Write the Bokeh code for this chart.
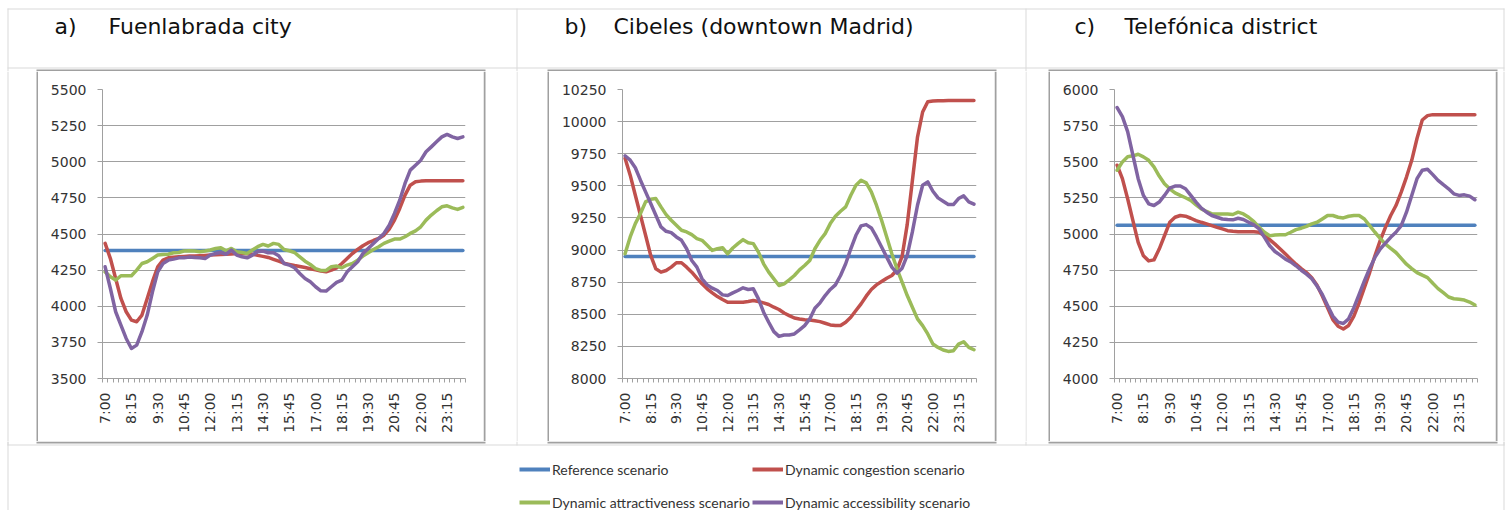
from math import pi
from bokeh.plotting import figure
from bokeh.models import Range1d, FixedTicker, BoxAnnotation, Label, Legend, LegendItem, ColumnDataSource
from bokeh.layouts import column, row
from bokeh.embed import file_html
from bokeh.resources import INLINE

# ---------------- data ----------------
times = [f"{h}:{m:02d}" for h in range(7, 25) for m in (0, 15, 30, 45)][:69]
label_idx = list(range(0, 69, 5))

series_names = ["Reference scenario", "Dynamic congestion scenario",
                "Dynamic attractiveness scenario", "Dynamic accessibility scenario"]
series_colors = ["#4F81BD", "#C0504D", "#9BBB59", "#8064A2"]

panel_titles = [("a)", "Fuenlabrada city"), ("b)", "Cibeles (downtown Madrid)"), ("c)", "Telefónica district")]

# a) Fuenlabrada city
ref_a = [4385] * 69
cong_a = [4435, 4330, 4192, 4054, 3962, 3904, 3893, 3939, 4054, 4170,
          4273, 4320, 4335, 4340, 4343, 4345, 4347, 4348, 4350, 4352,
          4354, 4356, 4358, 4360, 4362, 4365, 4365, 4363, 4360, 4352,
          4345, 4338, 4325, 4312, 4298, 4290, 4282, 4275, 4268, 4260,
          4252, 4243, 4238, 4250, 4266, 4296, 4331, 4365, 4393, 4419,
          4440, 4455, 4469, 4492, 4534, 4596, 4677, 4769, 4838, 4861,
          4866, 4868, 4868, 4868, 4868, 4868, 4868, 4868, 4868]
attr_a = [4238, 4204, 4181, 4211, 4211, 4211, 4250, 4296, 4308, 4331,
          4354, 4358, 4360, 4370, 4372, 4382, 4384, 4382, 4377, 4382,
          4389, 4400, 4405, 4384, 4400, 4377, 4372, 4365, 4389, 4412,
          4428, 4417, 4435, 4428, 4393, 4384, 4372, 4342, 4312, 4289,
          4261, 4248, 4248, 4273, 4278, 4266, 4285, 4296, 4319, 4347,
          4370, 4393, 4412, 4435, 4451, 4465, 4465, 4481, 4504, 4522,
          4550, 4596, 4631, 4661, 4688, 4695, 4681, 4670, 4684]
acc_a = [4273, 4123, 3962, 3870, 3777, 3708, 3731, 3824, 3939, 4100,
         4238, 4296, 4319, 4326, 4335, 4335, 4340, 4338, 4335, 4331,
         4354, 4365, 4372, 4360, 4389, 4354, 4342, 4335, 4354, 4377,
         4382, 4370, 4370, 4349, 4296, 4285, 4266, 4227, 4192, 4169,
         4135, 4107, 4105, 4135, 4165, 4181, 4238, 4273, 4308, 4365,
         4400, 4435, 4469, 4504, 4561, 4642, 4734, 4850, 4942, 4976,
         5011, 5069, 5103, 5138, 5172, 5189, 5172, 5161, 5172]

# b) Cibeles (downtown Madrid)
ref_b = [8950] * 69
cong_b = [9714, 9583, 9427, 9271, 9115, 8958, 8854, 8828, 8841, 8867,
          8901, 8901, 8867, 8828, 8781, 8737, 8698, 8667, 8638, 8615,
          8594, 8594, 8594, 8594, 8599, 8607, 8599, 8589, 8576, 8555,
          8537, 8510, 8490, 8471, 8464, 8458, 8456, 8450, 8443, 8430,
          8417, 8412, 8412, 8438, 8477, 8529, 8581, 8641, 8693, 8729,
          8755, 8781, 8802, 8845, 8950, 9200, 9540, 9880, 10075, 10155,
          10160, 10162, 10163, 10164, 10164, 10164, 10164, 10164, 10164]
attr_b = [8971, 9102, 9206, 9284, 9375, 9396, 9401, 9336, 9276, 9232,
          9193, 9154, 9141, 9120, 9089, 9076, 9037, 8997, 9010, 9018,
          8971, 9016, 9050, 9081, 9057, 9050, 8984, 8893, 8828, 8776,
          8724, 8737, 8768, 8802, 8846, 8880, 8919, 9010, 9076, 9128,
          9206, 9263, 9302, 9336, 9427, 9505, 9544, 9523, 9453, 9349,
          9232, 9102, 8971, 8854, 8750, 8646, 8555, 8464, 8412, 8347,
          8268, 8242, 8222, 8211, 8216, 8268, 8286, 8242, 8224]
acc_b = [9734, 9700, 9641, 9544, 9453, 9362, 9271, 9180, 9146, 9136,
         9102, 9076, 9010, 8919, 8867, 8776, 8729, 8703, 8685, 8651,
         8646, 8667, 8685, 8706, 8693, 8698, 8620, 8516, 8438, 8365,
         8328, 8339, 8339, 8347, 8378, 8412, 8464, 8547, 8589, 8646,
         8693, 8729, 8802, 8893, 9010, 9115, 9188, 9198, 9172, 9102,
         9024, 8945, 8867, 8820, 8859, 8958, 9141, 9349, 9505, 9531,
         9458, 9406, 9380, 9354, 9354, 9401, 9422, 9375, 9357]

# c) Telefónica district
ref_c = [5060] * 69
cong_c = [5476, 5383, 5244, 5093, 4942, 4849, 4814, 4821, 4896, 4988,
          5081, 5116, 5128, 5123, 5109, 5093, 5081, 5070, 5058, 5046,
          5035, 5023, 5019, 5016, 5016, 5016, 5016, 5012, 4988, 4961,
          4930, 4896, 4861, 4826, 4791, 4761, 4733, 4698, 4645, 4571,
          4490, 4408, 4362, 4343, 4367, 4432, 4524, 4629, 4733, 4849,
          4954, 5046, 5128, 5197, 5290, 5394, 5510, 5661, 5789, 5819,
          5826, 5826, 5826, 5826, 5826, 5826, 5826, 5826, 5826]
attr_c = [5441, 5499, 5534, 5541, 5552, 5534, 5510, 5464, 5401, 5348,
          5313, 5285, 5267, 5251, 5232, 5202, 5174, 5156, 5139, 5139,
          5139, 5139, 5135, 5151, 5139, 5116, 5086, 5046, 5012, 4988,
          4993, 4995, 4995, 5012, 5030, 5040, 5053, 5070, 5081, 5104,
          5128, 5128, 5116, 5111, 5123, 5128, 5128, 5104, 5058, 5012,
          4970, 4930, 4900, 4872, 4831, 4791, 4761, 4733, 4715, 4698,
          4659, 4622, 4594, 4564, 4552, 4548, 4543, 4529, 4508]
acc_c = [5875, 5812, 5708, 5545, 5383, 5267, 5209, 5197, 5221, 5267,
         5318, 5332, 5332, 5313, 5267, 5221, 5179, 5151, 5128, 5116,
         5104, 5100, 5098, 5109, 5100, 5081, 5063, 5035, 4977, 4919,
         4879, 4854, 4826, 4807, 4780, 4749, 4722, 4691, 4640, 4582,
         4506, 4432, 4390, 4381, 4413, 4490, 4582, 4675, 4761, 4838,
         4896, 4937, 4977, 5012, 5058, 5151, 5267, 5383, 5441, 5448,
         5411, 5371, 5341, 5313, 5278, 5267, 5271, 5262, 5237]

y_ticks_a = [3500, 3750, 4000, 4250, 4500, 4750, 5000, 5250, 5500]
y_ticks_b = [8000, 8250, 8500, 8750, 9000, 9250, 9500, 9750, 10000, 10250]
y_ticks_c = [4000, 4250, 4500, 4750, 5000, 5250, 5500, 5750, 6000]

# ---------------- styling / layout constants ----------------
TABLE = "#d9d9d9"
BOX = "#a0a0a0"
GRID = "#a0a0a0"
TICK_FONT = "DejaVu Sans"
W_TOTAL = 1510
TITLE_H = 71          # page y 0..71 (includes chart box top edges 69..71)
ROW_H = 370           # page y 71..441
LEG_H = 69            # page y 441..510 (includes chart box bottom edges 441..443)
CHART_W = 445
EDGE = 2
CELL_X = [7, 516, 1025, 1503]
BOX_X = [(36, 485), (547, 996), (1048, 1497)]


def canvas_box(p, l, r, t, b, fill):
    p.add_layout(BoxAnnotation(left=l, right=r, top=t, bottom=b,
                               left_units="canvas", right_units="canvas",
                               top_units="canvas", bottom_units="canvas",
                               fill_color=fill, fill_alpha=1, line_color=None))


def blank_fig(w, h, rects=()):
    p = figure(width=w, height=h, x_range=Range1d(0, w), y_range=Range1d(h, 0),
               x_axis_type=None, y_axis_type=None, min_border=0,
               output_backend="svg", toolbar_location=None,
               outline_line_color=None, background_fill_color="white",
               border_fill_color="white")
    p.grid.visible = False
    for (l, r, t, b, c) in rects:
        canvas_box(p, l, r, t, b, c)
    return p


# ---------------- title row (with box top edges) ----------------
t_rects = [(7, 1504, 8, 9, TABLE), (7, 1504, 67, 68, TABLE)]
t_rects += [(x, x + 1, 8, TITLE_H, TABLE) for x in CELL_X]
t_rects += [(l, r, 69, 69 + EDGE, BOX) for (l, r) in BOX_X]
tf = blank_fig(W_TOTAL, TITLE_H, t_rects)

title_x = [(54, 108), (564, 613), (1074, 1124)]
for (lab, name), (x1, x2) in zip(panel_titles, title_x):
    for txt, xx in ((lab, x1), (name, x2)):
        tf.add_layout(Label(x=xx, y=26, text=txt, text_font="DejaVu Sans",
                            text_font_size="22px", text_color="#111111",
                            text_baseline="alphabetic", text_align="left"))


# ---------------- chart panels ----------------
def chart(frame_l, yticks, data):
    p = figure(width=CHART_W, height=ROW_H,
               x_range=Range1d(-0.5, 68.5), y_range=Range1d(yticks[0], yticks[-1]),
               min_border_left=frame_l, min_border_right=18,
               min_border_top=89 - 71, min_border_bottom=441 - 378,
               output_backend="svg", toolbar_location=None,
               outline_line_color=None, background_fill_color="white",
               border_fill_color="white")
    xs = list(range(len(times)))
    for vals, col in zip(data, series_colors):
        p.line(x=xs, y=vals, line_color=col, line_width=3.5, line_join="round", line_cap="round")

    p.xgrid.visible = False
    yt = FixedTicker(ticks=yticks, minor_ticks=[])
    p.yaxis.ticker = yt
    p.ygrid.ticker = yt
    p.ygrid.grid_line_color = GRID
    p.ygrid.grid_line_width = 1

    p.xaxis.ticker = FixedTicker(ticks=label_idx, minor_ticks=[i - 0.5 for i in range(len(times) + 1)])
    p.xaxis.major_label_overrides = {i: times[i] for i in label_idx}
    p.xaxis.major_label_orientation = pi / 2
    p.xaxis.major_tick_out = 0
    p.xaxis.major_tick_in = 0
    p.xaxis.minor_tick_out = 4
    p.xaxis.minor_tick_in = 0
    p.xaxis.minor_tick_line_color = GRID
    p.xaxis.major_label_standoff = 10

    p.yaxis.major_tick_out = 5
    p.yaxis.major_tick_in = 0
    p.yaxis.minor_tick_out = 0
    p.yaxis.minor_tick_in = 0
    p.yaxis.major_label_standoff = 11

    for ax in (p.xaxis[0], p.yaxis[0]):
        ax.axis_line_color = GRID
        ax.major_tick_line_color = GRID
        ax.major_label_text_font = TICK_FONT
        ax.major_label_text_font_size = "14px"
        ax.major_label_text_color = "#333333"
    return p


def panel(left_w, right_w, cell_left_x, cell_right_x, frame_l, yticks, data):
    lrects = [(left_w - EDGE, left_w, 0, ROW_H, BOX)]
    if cell_left_x is not None:
        lrects.append((cell_left_x, cell_left_x + 1, 0, ROW_H, TABLE))
    left = blank_fig(left_w, ROW_H, lrects)
    rrects = [(0, EDGE, 0, ROW_H, BOX)]
    if cell_right_x is not None:
        rrects.append((cell_right_x, cell_right_x + 1, 0, ROW_H, TABLE))
    right = blank_fig(right_w, ROW_H, rrects)
    # the chart sits in its own column so that the strips are not frame-aligned to it
    return row(left, column(chart(frame_l, yticks, data)), right)


pa = panel(38, 33, 7, None, 64, y_ticks_a, [ref_a, cong_a, attr_a, acc_a])
pb = panel(33, 31, 0, None, 73, y_ticks_b, [ref_b, cong_b, attr_b, acc_b])
pc = panel(25, 15, 0, 8, 64, y_ticks_c, [ref_c, cong_c, attr_c, acc_c])

# ---------------- legend row (with box bottom edges) ----------------
l_rects = [(l, r, 0, EDGE, BOX) for (l, r) in BOX_X]
l_rects += [(x, x + 1, 0, 4, TABLE) for x in CELL_X]
l_rects += [(7, 1504, 3, 4, TABLE), (7, 8, 0, LEG_H, TABLE), (1503, 1504, 0, LEG_H, TABLE)]
lf = blank_fig(W_TOTAL, LEG_H, l_rects)

nan = float("nan")
leg_pos = [(519, 31), (752, 31), (519, -2), (752, -2)]
for name, col, (lx, ly) in zip(series_names, series_colors, leg_pos):
    r = lf.line(x="x", y="y", source=ColumnDataSource(dict(x=[nan], y=[nan])),
                line_color=col, line_width=4)
    leg = Legend(items=[LegendItem(label=name, renderers=[r])], location=(lx, ly),
                 glyph_width=31, glyph_height=20, label_height=20, label_standoff=2,
                 padding=0, margin=0, spacing=0, border_line_color=None,
                 background_fill_alpha=0, label_text_font="Lato",
                 label_text_font_size="14px", label_text_color="#333333")
    lf.add_layout(leg)

layout = column(tf, row(pa, pb, pc), lf)
open("out.html", "w").write(file_html(layout, INLINE))
